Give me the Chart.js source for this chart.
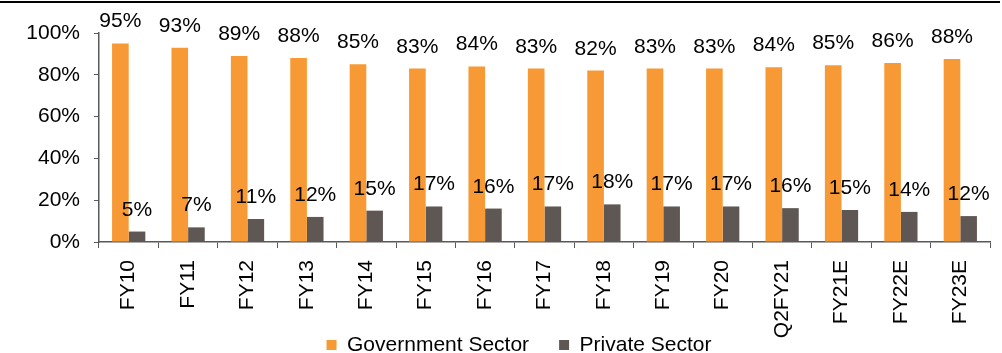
<!DOCTYPE html>
<html>
<head>
<meta charset="utf-8">
<script src="https://cdn.jsdelivr.net/npm/chart.js@4"></script>
<style>
  html, body { margin: 0; padding: 0; background: #fff; }
  #wrap { width: 1002px; height: 353px; position: relative; }
</style>
</head>
<body>
<div id="wrap"><canvas id="chart"></canvas></div>
<script>
const orange = "#F79A36";
const darkGrey = "#5F5753";
const axisGrey = "#595959";

const categories = ["FY10", "FY11", "FY12", "FY13", "FY14", "FY15", "FY16", "FY17", "FY18", "FY19", "FY20", "Q2FY21", "FY21E", "FY22E", "FY23E"];
const governmentSector = [95, 93, 89, 88, 85, 83, 84, 83, 82, 83, 83, 83.6, 84.6, 85.7, 87.6];
const privateSector = [5, 7, 11, 12, 15, 17, 16, 17, 18, 17, 17, 16.2, 15.3, 14.4, 12.4];
const yTicks = [0, 20, 40, 60, 80, 100];

const fontFamily = "'Liberation Sans', Arial, sans-serif";
Chart.defaults.font.family = fontFamily;
Chart.defaults.font.size = 21;
Chart.defaults.color = "#000";

const legendPad = 30;

// top rule across the picture
const topRule = {
  id: "topRule",
  beforeDraw(chart) {
    const ctx = chart.ctx;
    ctx.save();
    ctx.fillStyle = "#000";
    ctx.fillRect(0, 1, 1000, 2);
    ctx.restore();
  },
};

// nudge legend to sit where the original one is
const placeLegend = {
  id: "placeLegend",
  afterLayout(chart) {
    const lg = chart.legend;
    const dy = 345 - (lg.top + legendPad + 10.5);
    const dx = 24;
    lg.top += dy; lg.bottom += dy;
    lg.left += dx; lg.right += dx;
  },
};

// value labels above each bar
const barLabels = {
  id: "barLabels",
  afterDatasetsDraw(chart) {
    const ctx = chart.ctx;
    ctx.save();
    ctx.font = "21px " + fontFamily;
    ctx.fillStyle = "#000";
    ctx.textAlign = "center";
    ctx.textBaseline = "alphabetic";
    chart.data.datasets.forEach((ds, di) => {
      const meta = chart.getDatasetMeta(di);
      meta.data.forEach((bar, i) => {
        ctx.fillText(Math.round(ds.data[i]) + "%", bar.x, bar.y - 16);
      });
    });
    ctx.restore();
  },
};

new Chart(document.getElementById("chart").getContext("2d"), {
  type: "bar",
  data: {
    labels: categories,
    datasets: [
      {
        label: "Government Sector",
        data: governmentSector,
        backgroundColor: orange,
        borderWidth: 0,
        categoryPercentage: 0.56,
        barPercentage: 1,
      },
      {
        label: "Private Sector",
        data: privateSector,
        backgroundColor: darkGrey,
        borderWidth: 0,
        categoryPercentage: 0.56,
        barPercentage: 1,
      },
    ],
  },
  options: {
    responsive: true,
    maintainAspectRatio: false,
    animation: false,
    layout: {
      padding: { top: 33, right: 12, left: 0, bottom: -50 },
    },
    scales: {
      y: {
        min: 0,
        max: 100,
        afterBuildTicks(scale) {
          scale.ticks = yTicks.map((v) => ({ value: v }));
        },
        afterFit(scale) {
          scale.width = 99;
        },
        ticks: {
          padding: 14,
          callback: (v) => v + "%",
        },
        grid: {
          drawOnChartArea: false,
          tickLength: 5,
          color: axisGrey,
        },
        border: { color: axisGrey, width: 1.5 },
      },
      x: {
        afterFit(scale) {
          scale.height = 100;
        },
        ticks: {
          minRotation: 90,
          maxRotation: 90,
          padding: 12,
        },
        grid: {
          offset: true,
          drawOnChartArea: false,
          tickLength: 6,
          color: axisGrey,
        },
        border: { color: axisGrey, width: 1.5 },
      },
    },
    plugins: {
      legend: {
        position: "bottom",
        labels: {
          boxWidth: 10,
          boxHeight: 10,
          padding: legendPad,
          color: "#000",
          font: { size: 21 },
        },
      },
      tooltip: { enabled: false },
    },
  },
  plugins: [topRule, placeLegend, barLabels],
});
</script>
</body>
</html>
